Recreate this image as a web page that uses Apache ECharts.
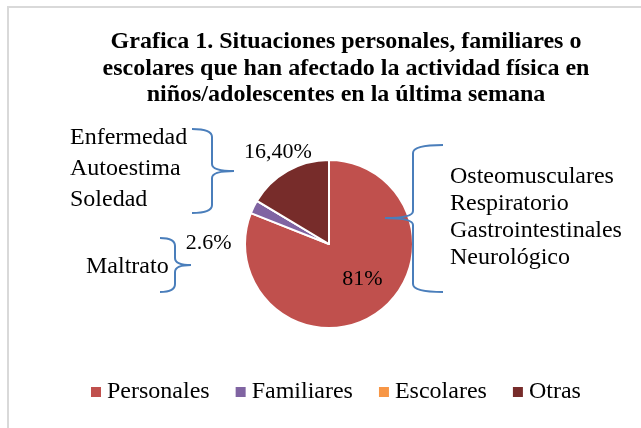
<!DOCTYPE html>
<html><head><meta charset="utf-8">
<script src="https://cdn.jsdelivr.net/npm/echarts@6/dist/echarts.min.js"></script>
<style>html,body{margin:0;padding:0;background:#fff}#c{width:641px;height:428px}</style>
</head><body><div id="c"></div>
<script>
var categories = ['Personales', 'Familiares', 'Escolares', 'Otras'];
var values = [81, 2.6, 0, 16.4];
var pctLabels = ['81%', '2.6%', '', '16,40%'];
var colors = ['#C0504D', '#8064A2', '#F79646', '#772C2A'];
var leftTopNotes = ['Enfermedad', 'Autoestima', 'Soledad'];
var leftBottomNotes = ['Maltrato'];
var rightNotes = ['Osteomusculares', 'Respiratorio', 'Gastrointestinales', 'Neurológico'];
var titleText = 'Grafica 1. Situaciones personales, familiares o\nescolares que han afectado la actividad física en\nniños/adolescentes en la última semana';

var FONT = '"Liberation Serif", "Times New Roman", serif';
var labelOffsets = [[8, -2], [-80, 19], [0, 0], [-29, -53]];

var data = categories.map(function (c, i) {
  return {
    name: c, value: values[i],
    itemStyle: { color: colors[i] },
    label: { offset: labelOffsets[i] }
  };
});

var graphics = [{
  type: 'rect', shape: { x: 8, y: 7, width: 700, height: 500 }, z: 0,
  style: { fill: 'none', stroke: '#D9D9D9', lineWidth: 2 }, silent: true
}];
function addText(t, x, y) {
  graphics.push({ type: 'text', x: x, y: y, z: 10,
    style: { text: t, font: '24px ' + FONT, fill: '#000', textAlign: 'left', textVerticalAlign: 'middle' } });
}
var ltY = [138, 169, 200];
leftTopNotes.forEach(function (t, i) { addText(t, 70, ltY[i]); });
leftBottomNotes.forEach(function (t) { addText(t, 86, 267); });
var rY = [177, 204, 231, 258];
rightNotes.forEach(function (t, i) { addText(t, 450, rY[i]); });

var braceStyle = { fill: 'none', stroke: '#4A7EBB', lineWidth: 2 };
function curve(x1, y1, cx, cy, x2, y2) {
  graphics.push({ type: 'bezierCurve', silent: true, z: 10, style: braceStyle,
    shape: { x1: x1, y1: y1, cpx1: cx, cpy1: cy, x2: x2, y2: y2 } });
}
function seg(x1, y1, x2, y2) {
  graphics.push({ type: 'line', silent: true, z: 10, style: braceStyle,
    shape: { x1: x1, y1: y1, x2: x2, y2: y2 } });
}
function brace(ex, top, bottom, sx, tx, ty) {
  var r = 8;
  curve(ex, top, sx, top, sx, top + r);
  seg(sx, top + r, sx, ty - 7);
  curve(sx, ty - 7, sx, ty, tx, ty);
  curve(tx, ty, sx, ty, sx, ty + 7);
  seg(sx, ty + 7, sx, bottom - r);
  curve(sx, bottom - r, sx, bottom, ex, bottom);
}
brace(192, 129, 213, 212, 234, 171);
brace(160, 238, 292, 175, 191, 265);
brace(443, 145, 292, 413, 385, 218);

var chart = echarts.init(document.getElementById('c'), null, { renderer: 'canvas' });
chart.setOption({
  animation: false,
  backgroundColor: '#fff',
  title: {
    text: titleText, left: 341, top: 24, textAlign: 'center',
    textStyle: { fontFamily: FONT, fontWeight: 'bold', fontSize: 24, lineHeight: 26.5, color: '#000' }
  },
  legend: {
    data: categories, left: 89, top: 380, padding: 0,
    itemWidth: 12, itemHeight: 12, itemGap: 24, icon: 'rect',
    textStyle: { fontFamily: FONT, fontSize: 24, color: '#000' }
  },
  graphic: graphics,
  series: [{
    type: 'pie', center: [329, 244], radius: 84, startAngle: 90, clockwise: true,
    avoidLabelOverlap: false, z: 2,
    itemStyle: { borderColor: '#fff', borderWidth: 2 },
    label: {
      show: true, position: 'inside',
      formatter: function (p) { return pctLabels[p.dataIndex]; },
      fontFamily: FONT, fontSize: 22, color: '#000'
    },
    labelLine: { show: false },
    emphasis: { disabled: true },
    data: data
  }]
});
</script></body></html>
